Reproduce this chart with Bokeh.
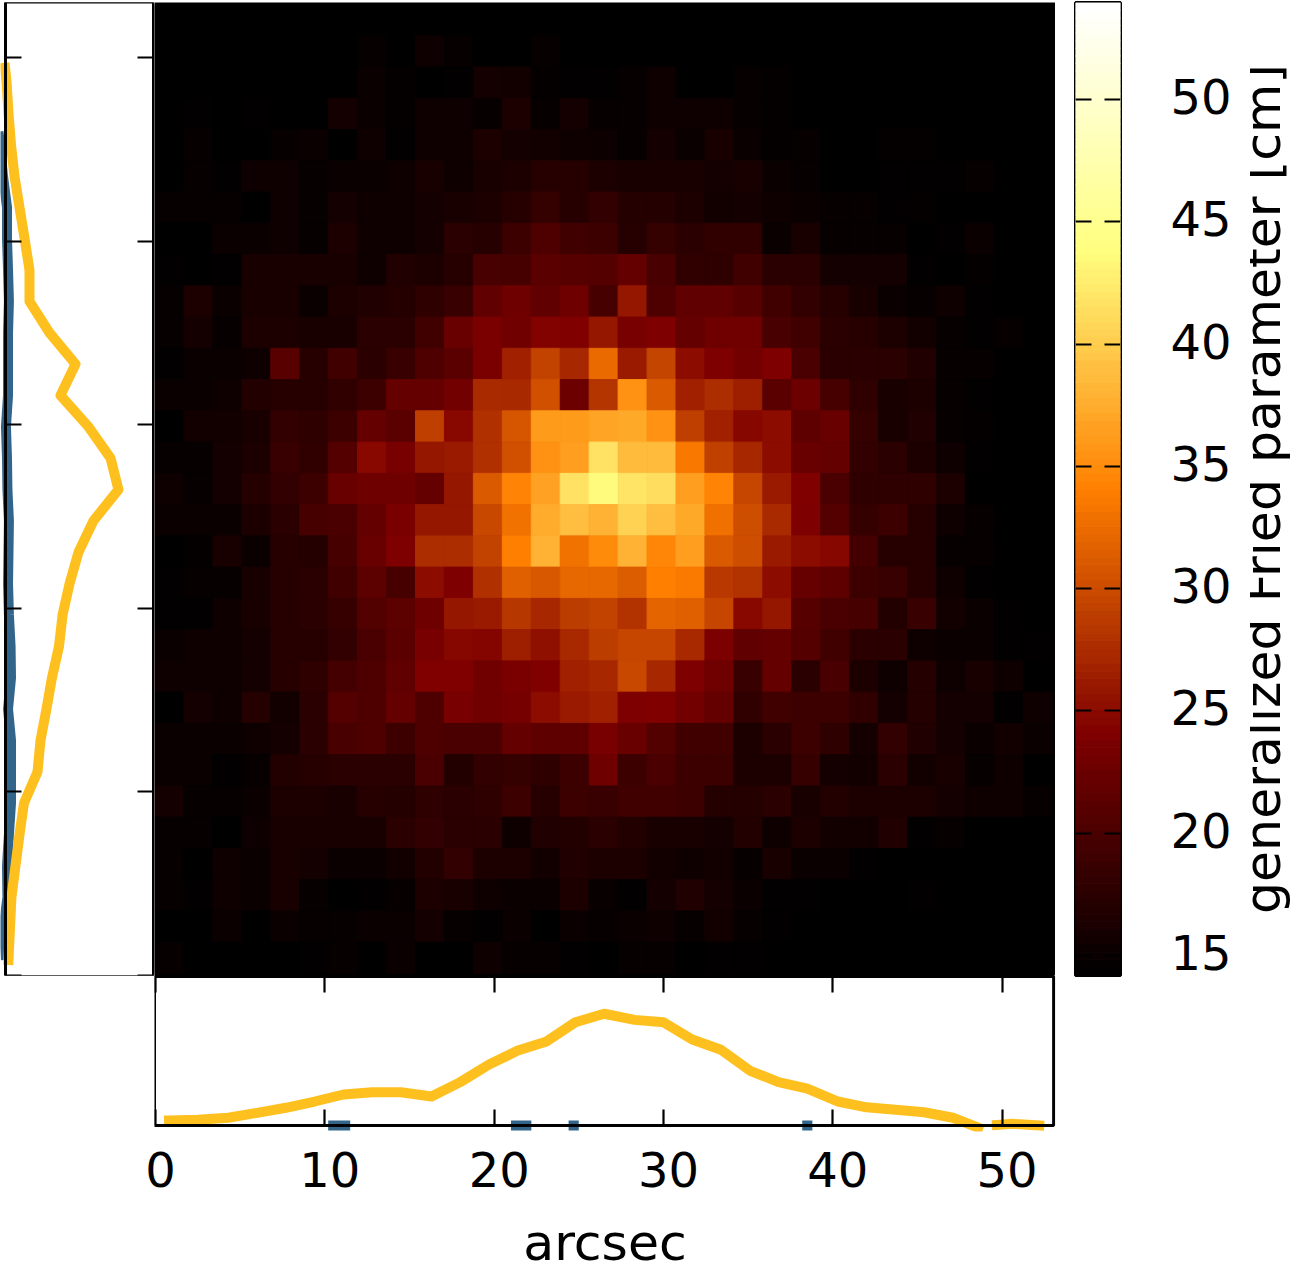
from bokeh.embed import file_html
from bokeh.resources import INLINE
from bokeh.plotting import figure
from bokeh.layouts import row, column
from bokeh.models import (LinearColorMapper, ColumnDataSource, BoxAnnotation, LinearAxis,
                          FixedTicker, Range1d)

# Fried parameter map, top row first
r0_map = [
[14.3,14.3,14.3,14.3,14.3,14.3,14.3,14.3,14.3,14.3,14.3,14.3,14.3,14.3,14.3,14.3,14.3,14.3,14.3,14.3,14.3,14.3,14.3,14.3,14.3,14.3,14.3,14.3,14.3,14.3,14.3],
[14.3,14.3,14.3,14.3,14.3,14.3,14.3,14.8,14.2,15.3,14.7,14.3,14.3,14.7,14.3,14.3,14.3,14.3,14.3,14.3,14.3,14.3,14.3,14.3,14.3,14.3,14.3,14.3,14.3,14.3,14.3],
[14.2,14.2,14.2,14.2,14.2,14.2,14.2,15.0,14.6,14.2,14.4,15.8,15.6,14.6,14.4,14.4,14.7,15.4,14.2,14.2,14.7,14.6,14.2,14.2,14.2,14.2,14.2,14.2,14.2,14.2,14.2],
[14.2,14.4,14.2,14.4,14.2,14.2,15.9,15.1,14.6,15.3,15.3,14.8,16.4,14.8,15.8,14.8,14.7,15.3,15.3,15.4,14.7,14.6,14.2,14.2,14.2,14.2,14.2,14.2,14.2,14.2,14.2],
[14.2,14.7,14.2,14.2,14.7,15.0,14.2,15.3,14.5,15.4,15.4,16.5,15.9,15.6,15.4,15.2,14.7,15.8,15.1,16.1,15.1,14.6,14.7,14.2,14.2,14.6,14.6,14.2,14.2,14.2,14.2],
[14.2,14.7,14.4,15.3,15.3,14.8,15.0,15.1,15.4,16.1,15.3,16.1,16.4,17.3,17.2,16.4,16.1,16.1,16.1,15.9,16.1,15.1,14.8,14.2,14.2,14.5,14.4,14.4,14.8,14.2,14.2],
[14.7,14.7,14.7,14.2,15.4,14.8,15.8,15.3,15.3,15.8,16.1,16.4,17.3,18.3,17.2,18.1,17.0,17.0,16.5,15.6,15.8,15.4,15.1,14.7,14.7,14.5,14.6,14.3,14.3,14.2,14.2],
[14.2,14.2,15.0,15.0,15.3,14.8,16.4,15.4,15.4,15.9,17.5,17.3,18.9,20.4,19.3,18.9,17.3,18.3,17.5,18.0,18.0,15.0,16.2,14.8,14.8,14.8,14.2,14.5,15.0,14.2,14.2],
[14.5,14.2,14.5,16.2,16.2,16.2,16.1,15.3,16.7,16.5,17.3,19.8,19.7,21.2,20.9,20.8,22.0,19.8,18.0,17.8,19.3,17.6,17.6,15.8,15.8,15.8,14.5,14.3,14.6,14.2,14.2],
[14.7,16.4,15.1,16.2,16.2,15.0,16.5,16.7,17.0,17.8,18.7,21.7,22.8,21.7,22.8,19.7,25.9,20.4,21.7,21.7,20.9,19.2,18.1,17.2,16.1,15.0,14.8,15.4,14.5,14.2,14.2],
[14.7,15.8,14.8,16.4,16.5,16.2,16.2,17.6,17.6,19.3,22.3,23.7,22.9,24.3,24.2,26.0,23.6,24.0,22.0,22.8,22.9,19.8,19.2,17.5,17.3,16.4,15.6,14.8,14.4,14.8,14.2],
[14.4,15.1,15.1,15.3,21.1,17.3,19.3,17.6,18.6,20.4,21.2,23.7,26.7,29.4,27.1,32.5,26.3,29.5,25.1,24.0,23.2,24.0,20.1,17.5,17.5,17.6,16.7,14.7,14.7,14.2,14.2],
[15.0,15.1,15.3,16.9,17.2,17.2,18.0,18.9,22.0,22.0,23.2,27.5,27.3,30.4,22.6,28.2,35.6,31.2,26.7,27.6,26.5,21.2,22.6,19.7,17.8,16.1,16.5,14.7,14.4,14.2,14.2],
[14.2,15.6,15.6,16.2,18.1,17.8,19.0,22.0,21.2,29.0,24.8,27.9,30.9,36.2,36.2,37.0,37.2,35.6,29.0,26.7,24.7,25.1,21.6,22.4,18.3,16.2,16.7,14.8,14.6,14.2,14.2],
[14.8,14.8,15.8,16.5,18.6,18.0,20.8,24.8,23.6,25.9,26.3,27.9,30.4,35.6,36.5,41.7,38.6,38.6,33.5,29.2,27.1,25.1,22.3,22.0,18.1,17.6,16.5,15.3,14.5,14.2,14.2],
[15.4,14.8,15.9,17.0,18.1,18.9,22.4,22.8,22.8,22.0,25.9,31.2,34.4,36.8,41.7,43.8,42.0,41.5,36.5,34.4,29.6,26.3,24.2,20.1,17.8,17.8,17.8,16.5,14.2,14.2,14.2],
[15.1,15.1,15.1,16.5,17.6,19.7,20.0,22.0,23.7,25.9,25.9,29.8,33.1,37.4,39.0,38.0,40.5,39.0,37.2,32.9,30.2,27.5,24.0,20.8,18.3,19.0,17.3,15.3,14.8,14.2,14.2],
[14.2,14.6,16.1,15.1,17.3,17.0,19.7,22.3,24.0,27.6,27.6,29.4,34.1,38.0,33.1,34.9,38.0,34.7,36.5,31.2,30.2,26.3,25.1,24.7,19.5,17.2,17.3,14.8,14.8,14.2,14.2],
[14.5,14.7,14.7,16.2,17.3,17.6,19.3,21.4,19.7,25.1,24.0,27.9,31.7,31.0,32.3,32.3,31.4,34.1,33.7,28.6,28.1,25.1,22.2,21.5,19.0,18.6,17.2,15.4,14.5,14.2,14.2],
[14.5,14.5,15.3,16.1,17.3,17.5,18.4,20.6,21.4,22.8,25.9,26.3,28.4,27.1,28.9,29.4,28.1,32.0,31.7,29.6,24.8,25.9,20.9,20.0,19.7,16.9,18.6,15.6,15.0,14.5,14.2],
[15.0,15.3,15.3,15.9,17.3,17.3,18.1,20.1,21.2,23.6,24.7,24.5,26.5,25.5,27.3,28.8,29.6,29.6,27.3,23.9,21.8,22.0,20.8,19.2,17.5,17.5,15.3,15.0,15.0,14.5,14.4],
[15.3,15.3,15.3,15.8,17.3,17.8,19.5,20.4,21.8,24.2,24.2,22.9,23.7,24.2,26.7,27.1,29.8,27.1,24.0,22.8,18.6,22.0,17.6,19.8,16.5,15.4,17.0,15.4,16.1,15.4,14.2],
[14.2,15.8,15.3,17.0,15.6,17.6,20.8,20.3,22.0,20.4,23.6,22.9,23.4,25.1,26.2,26.7,24.0,24.2,23.2,22.0,18.0,19.2,18.9,18.9,18.0,15.9,17.0,15.9,15.8,14.5,15.4],
[15.0,15.0,15.1,15.4,15.8,17.6,19.8,20.3,18.9,20.4,20.0,20.0,22.0,21.5,21.6,23.6,22.4,20.6,19.3,19.3,16.5,17.6,18.9,17.8,15.9,18.1,16.7,15.9,15.0,15.6,15.1],
[15.1,15.1,14.4,14.7,16.9,17.2,17.5,17.6,17.6,20.1,16.9,18.1,18.3,17.8,19.0,22.8,18.9,20.0,19.0,19.0,16.5,16.5,18.4,15.9,15.6,17.6,15.6,16.1,14.7,15.4,14.2],
[15.8,14.8,14.8,15.0,16.4,16.5,16.1,17.2,17.0,17.8,17.6,17.8,18.9,17.3,19.0,18.7,19.2,19.2,18.9,17.0,17.0,17.6,16.1,16.9,16.4,16.4,16.4,15.9,15.3,15.3,14.7],
[14.7,14.7,14.2,15.3,16.2,16.1,16.2,16.1,17.6,18.1,17.5,17.6,15.4,16.7,16.9,17.5,16.9,16.1,16.1,15.8,16.9,15.3,16.5,15.6,15.6,16.7,14.5,14.7,14.2,14.2,14.2],
[14.7,14.2,15.3,15.1,16.1,15.8,15.1,15.1,15.6,16.9,18.1,16.5,16.4,15.6,16.7,16.5,16.5,15.6,15.4,15.6,14.8,16.1,15.1,15.1,14.4,14.2,14.2,14.2,14.2,14.2,14.2],
[14.8,14.4,15.4,15.0,16.1,14.8,14.2,14.5,14.7,16.5,16.2,15.3,15.1,15.1,16.5,14.9,14.4,15.8,16.7,15.8,15.0,14.5,14.5,14.2,14.2,14.2,14.5,14.2,14.2,14.2,14.2],
[14.2,14.2,15.1,14.2,15.0,14.7,14.7,15.0,15.1,15.9,14.7,14.5,15.0,14.2,15.0,14.8,15.1,15.4,14.7,15.6,14.8,14.4,14.2,14.2,14.2,14.2,14.2,14.2,14.2,14.2,14.2],
[14.7,14.2,14.2,14.2,14.2,14.4,14.7,14.2,15.0,14.2,14.2,15.3,14.7,14.8,14.4,14.2,14.8,14.8,14.2,14.4,14.4,14.2,14.2,14.2,14.2,14.2,14.2,14.2,14.2,14.2,14.2],
]

# profile along the horizontal axis
prof_x = [0.8,2.5,4.3,6.0,7.7,9.4,11.1,12.8,14.5,16.3,18.0,19.7,21.4,23.1,24.8,26.5,28.3,30.0,31.7,33.4,35.1,36.8,38.5,40.3,42.0,43.7,45.4,47.1,48.6,float("nan"),49.7,50.6,52.2]
prof_y = [.034,.038,.052,.085,.119,.161,.208,.223,.223,.195,.291,.409,.503,.564,.693,.75,.709,.693,.577,.508,.369,.291,.248,.161,.122,.105,.089,.052,-.015,float("nan"),.004,.011,0.0]
blue_x = [10.2,11.5,float("nan"),21.0,22.2,float("nan"),24.4,25.0,float("nan"),38.2,38.8]
blue_y = [0.0,0.0,float("nan"),0.0,0.0,float("nan"),0.0,0.0,float("nan"),0.0,0.0]

# profile along the vertical axis
side_y = [0.85,2.56,4.27,5.98,7.68,9.39,11.1,12.81,14.52,16.22,17.93,19.64,21.35,23.06,24.76,26.47,28.18,29.89,31.6,33.3,35.01,36.72,38.43,40.14,41.84,43.55,45.26,46.97,48.68,49.44]
side_x = [.02,.03,.04,.067,.094,.124,.215,.235,.275,.312,.359,.383,.43,.49,.59,.758,.705,.557,.369,.47,.295,.161,.161,.128,.094,.06,.037,.02,.007,-.003]
sideb_y = [0.85,2.56,4.27,5.98,7.68,9.39,11.1,12.81,14.52,16.22,17.93,19.64,21.35,23.06,24.76,26.47,28.18,29.89,31.6,33.3,35.01,36.72,38.43,40.14,41.84,43.55,45.26,45.97]
sideb_x = [.003,-.013,.013,.01,.023,.037,.037,.037,.017,.037,.034,.023,.017,.02,.023,.013,.01,.003,.017,.017,.017,.023,.017,.01,.01,-.017,-.037,-.047]

x_ticks = [0,10,20,30,40,50]
y_ticks = [0,10,20,30,40,50]
cb_ticks = [15,20,25,30,35,40,45,50]
x_label = "arcsec"
cb_label = "generalized Fried parameter [cm]"
VMIN, VMAX = 14.2, 53.96

def afmhot(t):
    r = min(1, 2*t)
    g = min(1, max(0, 2*t-.5))
    b = max(0, 2*t-1)
    return "#%02x%02x%02x" % (round(255*r), round(255*g), round(255*b))

palette = [afmhot(i/255) for i in range(256)]
mapper = LinearColorMapper(palette=palette, low=VMIN, high=VMAX)

YELLOW = "#fec01f"
BLUE = "#33658a"
FONT = "DejaVu Sans"
FS = "48px"
FL = "50.5px"
LW = 10

def blank(p):
    p.grid.visible = False
    p.axis.visible = False
    p.border_fill_color = None

def tick_axis(p, side, loc, ticks, rng=None):
    a = LinearAxis(ticker=FixedTicker(ticks=ticks), fixed_location=loc,
                   major_tick_in=16, major_tick_out=0, major_tick_line_width=2.2,
                   major_tick_line_color="black",
                   minor_tick_line_color=None, axis_line_color=None,
                   major_label_overrides={t: "" for t in ticks}, major_label_standoff=0)
    p.add_layout(a, side)
    return a

def edge_axis(p, side, loc, lo, hi):
    a = LinearAxis(ticker=FixedTicker(ticks=[]), fixed_location=loc, bounds=(lo, hi),
                   major_tick_in=0, major_tick_out=0, major_tick_line_color=None,
                   minor_tick_line_color=None, axis_line_color="black", axis_line_width=3,
                   major_label_standoff=0)
    p.add_layout(a, side)
    return a

# main map
cell = 53/31
xs0, xs1, ys0, ys1, vals = [], [], [], [], []
for r, line in enumerate(r0_map):
    for c, v in enumerate(line):
        xs0.append(c*cell-0.03); xs1.append((c+1)*cell-0.03)
        ys1.append(53-r*cell); ys0.append(53-(r+1)*cell); vals.append(v)
src = ColumnDataSource(dict(l=xs0, r=xs1, b=ys0, t=ys1, v=vals))
main = figure(width=901, height=1000, output_backend="svg", toolbar_location=None,
              x_range=Range1d(-1/16.93, 900/16.93), y_range=Range1d(-2/18.34, 974/18.34),
              min_border=0, min_border_bottom=24, background_fill_color="black", outline_line_color=None)
blank(main)
cm = {"field": "v", "transform": mapper}
main.quad(left="l", right="r", bottom="b", top="t", source=src, fill_color=cm, line_color=cm, line_width=1)

# left profile
left = figure(width=154, height=1000, output_backend="svg", toolbar_location=None,
              x_range=Range1d(-5/149, 149/149), y_range=Range1d(0, 53.0),
              min_border=0, min_border_bottom=22, outline_line_color=None, background_fill_color="white")
blank(left)
left.line(sideb_x, sideb_y, line_color=BLUE, line_width=LW, line_cap="butt", line_join="round")
left.line(side_x, side_y, line_color=YELLOW, line_width=LW, line_cap="square", line_join="round")
tick_axis(left, "left", 0, y_ticks)
tick_axis(left, "right", 148/149, y_ticks)
left.add_layout(BoxAnnotation(left=0, right=148/149, bottom=-0.08, top=53.03, fill_color=None,
                              line_color="black", line_alpha=1, line_width=3, level="overlay"))
edge_axis(left, "above", 53.03, -0.01, 148/149)
edge_axis(left, "below", -0.08, -0.01, 148/149)

# colour bar
ramp = [VMIN + (VMAX-VMIN)*i/128 for i in range(129)]
cbs = ColumnDataSource(dict(b=ramp[:-1], t=ramp[1:], v=[(a+b)/2 for a, b in zip(ramp[:-1], ramp[1:])]))
cb_lo, cb_hi = 14.18, 53.97
cb = figure(width=195, height=1000, output_backend="svg", toolbar_location=None,
            x_range=Range1d(0, 1), y_range=Range1d(cb_lo, cb_hi),
            min_border_left=20, min_border_right=130, min_border_top=2, min_border_bottom=25,
            outline_line_color="black", outline_line_width=3, background_fill_color="white")
cb.grid.visible = False
cb.axis.visible = False
cb.border_fill_color = None
cb.quad(left=0, right=1, bottom="b", top="t", source=cbs, fill_color=cm, line_color=cm, line_width=1)
tick_axis(cb, "left", 0, cb_ticks)
tick_axis(cb, "right", 1, cb_ticks)
cb.extra_y_ranges = {"lab": Range1d(cb_lo-0.12, cb_hi-0.12)}
ax = LinearAxis(y_range_name="lab", ticker=FixedTicker(ticks=cb_ticks), major_tick_in=0, major_tick_out=0,
                major_tick_line_color=None,
                minor_tick_line_color=None, axis_line_color=None,
                major_label_text_font=FONT, major_label_text_font_size=FS, major_label_standoff=50,
                major_label_text_color="black")
cb.add_layout(ax, "right")

# colour bar title: a left axis of a thin figure reads bottom to top
ttl = figure(width=46, height=1000, output_backend="svg", toolbar_location=None,
             x_range=Range1d(0, 1), y_range=Range1d(cb_lo, cb_hi),
             min_border_left=45, min_border_right=0, min_border_top=2, min_border_bottom=25,
             outline_line_color=None, background_fill_color=None)
blank(ttl)
ttl_ax = LinearAxis(ticker=FixedTicker(ticks=[]), major_tick_in=0, major_tick_out=0, major_tick_line_color=None,
                    minor_tick_line_color=None, axis_line_color=None, major_label_standoff=0,
                    axis_label=cb_label, axis_label_text_font=FONT, axis_label_text_font_size=FL,
                    axis_label_text_font_style="normal", axis_label_standoff=5, axis_label_text_color="black")
ttl.add_layout(ttl_ax, "left")

# bottom profile
xa, xb = -1/16.93, 900/16.93
bot = figure(width=1296, height=309, output_backend="svg", toolbar_location=None,
             x_range=Range1d(xa, xb), y_range=Range1d(-6/149, 151/149),
             min_border_left=154, min_border_right=241, min_border_top=0, min_border_bottom=152,
             outline_line_color=None, background_fill_color=None, margin=(-26, 0, -11, 0))
blank(bot)
bot.background_fill_alpha = 0
bot.line(blue_x, blue_y, line_color=BLUE, line_width=LW, line_cap="butt")
bot.line(prof_x, prof_y, line_color=YELLOW, line_width=LW, line_cap="square", line_join="round")
tick_axis(bot, "below", 0, x_ticks)
tick_axis(bot, "above", 1, x_ticks)
bot.add_layout(BoxAnnotation(left=-0.06, right=53.05, bottom=0, top=1, fill_color=None,
                             line_color="black", line_alpha=1, line_width=3, level="overlay"))
bot.extra_x_ranges = {"lab": Range1d(xa-0.3, xb-0.3)}
lab = LinearAxis(x_range_name="lab", ticker=FixedTicker(ticks=x_ticks), major_tick_line_color=None,
                 minor_tick_line_color=None, axis_line_color=None, major_tick_in=0, major_tick_out=0,
                 major_label_text_font=FONT, major_label_text_font_size=FS, major_label_standoff=20,
                 major_label_text_color="black",
                 axis_label=x_label, axis_label_text_font=FONT, axis_label_text_font_size=FL,
                 axis_label_text_font_style="normal", axis_label_standoff=23, axis_label_text_color="black")
bot.add_layout(lab, "below")

top = row(left, main, cb, ttl, spacing=0)
layout = column(top, bot, spacing=0, margin=(0, 0, 0, 0))
open("out.html", "w").write(file_html(layout, INLINE))
